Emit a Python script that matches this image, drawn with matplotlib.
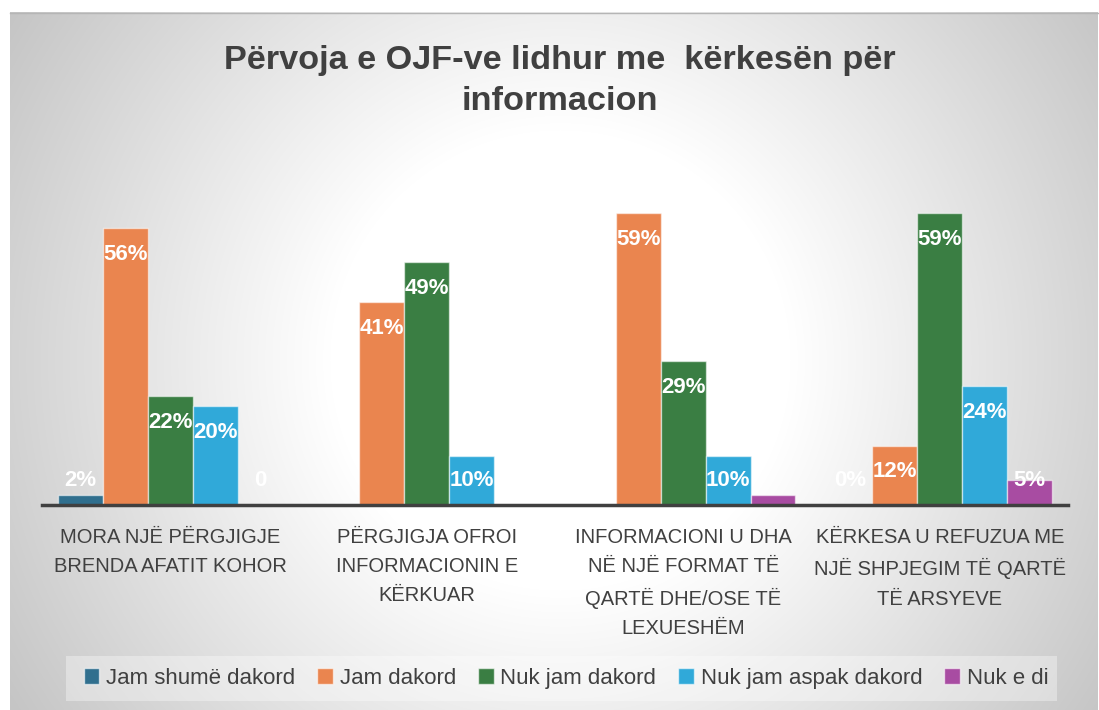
import numpy as np
import matplotlib
matplotlib.use("Agg")
import matplotlib.pyplot as plt
from matplotlib.patches import Rectangle

# ---------------- data ----------------
title = "Përvoja e OJF-ve lidhur me  kërkesën për\ninformacion"
categories = [
    "MORA NJË PËRGJIGJE\nBRENDA AFATIT KOHOR",
    "PËRGJIGJA OFROI\nINFORMACIONIN E\nKËRKUAR",
    "INFORMACIONI U DHA\nNË NJË FORMAT TË\nQARTË DHE/OSE TË\nLEXUESHËM",
    "KËRKESA U REFUZUA ME\nNJË SHPJEGIM TË QARTË\nTË ARSYEVE",
]
series_names = ["Jam shumë dakord", "Jam dakord", "Nuk jam dakord",
                "Nuk jam aspak dakord", "Nuk e di"]
nan = np.nan
jam_shume_dakord = [2, nan, nan, 0]
jam_dakord = [56, 41, 59, 12]
nuk_jam_dakord = [22, 49, 29, 59]
nuk_jam_aspak_dakord = [20, 10, 10, 24]
nuk_e_di = [0, nan, 2, 5]

labels_jam_shume_dakord = ["2%", "", "", "0%"]
labels_jam_dakord = ["56%", "41%", "59%", "12%"]
labels_nuk_jam_dakord = ["22%", "49%", "29%", "59%"]
labels_nuk_jam_aspak_dakord = ["20%", "10%", "10%", "24%"]
labels_nuk_e_di = ["0", "", "", "5%"]

series_values = [jam_shume_dakord, jam_dakord, nuk_jam_dakord,
                 nuk_jam_aspak_dakord, nuk_e_di]
series_labels = [labels_jam_shume_dakord, labels_jam_dakord, labels_nuk_jam_dakord,
                 labels_nuk_jam_aspak_dakord, labels_nuk_e_di]
colors = ["#306f8e", "#ea854f", "#3a7e43", "#30a9d9", "#a84ca2"]

# ---------------- figure ----------------
W, H = 1099, 710
fig = plt.figure(figsize=(W / 100, H / 100), dpi=100)
fig.patch.set_facecolor("white")

# background radial gradient panel
bg = fig.add_axes([0, 0, 1, 1], zorder=0)
bg.axis("off")
x0, y0, x1, y1 = 10, 12, 1098, 710
xx, yy = np.meshgrid(np.arange(x0, x1), np.arange(y0, y1))
r = np.hypot(xx - 560, yy - 360)
t = np.clip((r - 230) / 420, 0, 1)
g = 1.0 - t * (255 - 197) / 255
img = np.dstack([g, g, g])
bg.imshow(img, extent=(x0, x1, y1, y0), aspect="auto", interpolation="bilinear")
bg.plot([x0, x1], [y0 + 0.5, y0 + 0.5], color="#b5b5b5", lw=1)
# legend background band
bg.add_patch(Rectangle((66, 656), 991, 45, facecolor=(1, 1, 1, 0.35),
                       edgecolor="none", zorder=2))
bg.set_xlim(0, W)
bg.set_ylim(H, 0)

# main axes
left, right = 42 / W, 1068 / W
bottom, top = 1 - 505 / H, 1 - 158.5 / H
ax = fig.add_axes([left, bottom, right - left, top - bottom], zorder=2)
ax.patch.set_alpha(0)
ncat = len(categories)
nser = len(series_values)
bw = 0.175
x = np.arange(ncat)
for i, (vals, labs, col) in enumerate(zip(series_values, series_labels, colors)):
    off = (i - (nser - 1) / 2) * bw
    v = np.array(vals, dtype=float)
    ax.bar(x + off, np.nan_to_num(v), width=bw, color=col,
           edgecolor=(1, 1, 1, 0.55), linewidth=1.0, zorder=3)
    for j, lab in enumerate(labs):
        if lab == "" or np.isnan(v[j]):
            continue
        ly = max(v[j] - 5.3, 5.0)
        ax.text(x[j] + off, ly, lab, ha="center", va="center", color="white",
                fontsize=16, fontweight="bold", family="Liberation Sans", zorder=5)

ax.set_xlim(-0.5, ncat - 0.5)
ax.set_ylim(0, 70)
for s in ["top", "right", "left"]:
    ax.spines[s].set_visible(False)
ax.spines["bottom"].set_color("#404040")
ax.spines["bottom"].set_linewidth(2.5)
ax.spines["bottom"].set_zorder(6)
ax.set_yticks([])
ax.set_xticks([])

for j, cat in enumerate(categories):
    ax.text(x[j], -4.6, cat, ha="center", va="top", fontsize=14.5,
            color="#404040", family="Liberation Sans", linespacing=1.68,
            transform=ax.transData, clip_on=False)

# title
fig.text(560 / W, 1 - 81 / H, title, ha="center", va="center",
         fontsize=24.7, fontweight="bold", color="#404040",
         family="Liberation Sans", linespacing=1.4)

# legend
handles = [Rectangle((0, 0), 1, 1, facecolor=c, edgecolor=(1, 1, 1, 0.6), lw=1)
           for c in colors]
leg = fig.legend(handles, series_names, loc="center", ncol=5,
                 bbox_to_anchor=(566 / W, 1 - 678.5 / H),
                 frameon=False, handlelength=0.7, handleheight=0.7,
                 handletextpad=0.3, columnspacing=1.0, borderpad=0.5,
                 prop={"family": "Liberation Sans", "size": 16})
for txt in leg.get_texts():
    txt.set_color("#404040")

fig.savefig("out.png", dpi=100)
